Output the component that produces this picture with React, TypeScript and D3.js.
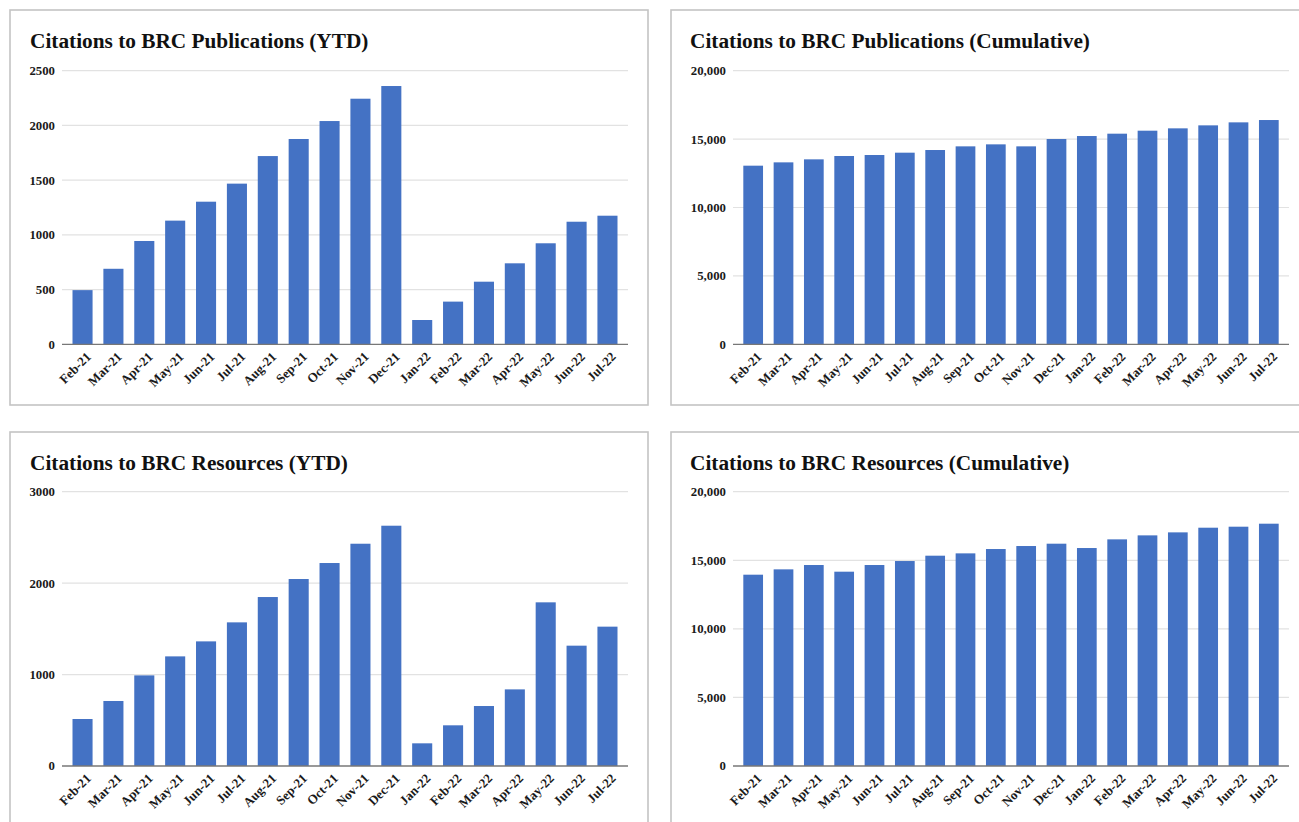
import React, { useEffect, useRef } from 'react';
import * as d3 from 'd3';

const MONTHS = [
  'Feb-21', 'Mar-21', 'Apr-21', 'May-21', 'Jun-21', 'Jul-21', 'Aug-21', 'Sep-21', 'Oct-21',
  'Nov-21', 'Dec-21', 'Jan-22', 'Feb-22', 'Mar-22', 'Apr-22', 'May-22', 'Jun-22', 'Jul-22',
];

const PUB_YTD = [495, 690, 944, 1130, 1303, 1468, 1720, 1876, 2040, 2244, 2360, 222, 390, 572, 740, 923, 1120, 1175];
const PUB_CUM = [13057, 13300, 13520, 13764, 13837, 14007, 14202, 14470, 14616, 14470, 15006, 15225, 15396, 15615, 15786, 16005, 16224, 16394];
const RES_YTD = [514, 711, 991, 1199, 1363, 1571, 1848, 2045, 2220, 2431, 2628, 248, 445, 656, 838, 1790, 1316, 1524];
const RES_CUM = [13949, 14338, 14654, 14168, 14654, 14945, 15334, 15504, 15820, 16039, 16209, 15893, 16525, 16816, 17035, 17375, 17448, 17667];

const PUB_YTD_TICKS = [0, 500, 1000, 1500, 2000, 2500];
const RES_YTD_TICKS = [0, 1000, 2000, 3000];
const CUM_TICKS = [0, 5000, 10000, 15000, 20000];

const BAR = '#4472c4';
const FONT = '"Liberation Serif", "Times New Roman", serif';

interface Panel {
  title: string;
  values: number[];
  ticks: number[];
  fmt: (v: number) => string;
  box: [number, number, number, number]; // x0, y0, x1, y1 of frame
  plot: { left: number; right: number; top: number; bottom: number };
  titleX: number;
  titleY: number;
}

const plain = (v: number) => String(v);
const comma = d3.format(',');

const PANELS: Panel[] = [
  {
    title: 'Citations to BRC Publications (YTD)', values: PUB_YTD, ticks: PUB_YTD_TICKS, fmt: plain,
    box: [10, 10, 648, 405], plot: { left: 62, right: 628, top: 70.7, bottom: 344.3 }, titleX: 30, titleY: 48,
  },
  {
    title: 'Citations to BRC Publications (Cumulative)', values: PUB_CUM, ticks: CUM_TICKS, fmt: comma,
    box: [671, 10, 1320, 405], plot: { left: 733, right: 1289, top: 70.7, bottom: 344.3 }, titleX: 690, titleY: 48,
  },
  {
    title: 'Citations to BRC Resources (YTD)', values: RES_YTD, ticks: RES_YTD_TICKS, fmt: plain,
    box: [10, 432, 648, 840], plot: { left: 62, right: 628, top: 491.7, bottom: 766 }, titleX: 30, titleY: 470,
  },
  {
    title: 'Citations to BRC Resources (Cumulative)', values: RES_CUM, ticks: CUM_TICKS, fmt: comma,
    box: [671, 432, 1320, 840], plot: { left: 733, right: 1289, top: 491.7, bottom: 766 }, titleX: 690, titleY: 470,
  },
];

export default function App() {
  const svgRef = useRef<SVGSVGElement>(null);

  useEffect(() => {
    if (!svgRef.current) return;
    const svg = d3.select(svgRef.current);
    svg.selectAll('*').remove();

    svg.append('rect').attr('width', 1299).attr('height', 822).attr('fill', '#fff');

    PANELS.forEach((p) => {
      const g = svg.append('g');
      const [bx0, by0, bx1, by1] = p.box;

      // frame
      g.append('rect')
        .attr('x', bx0).attr('y', by0)
        .attr('width', bx1 - bx0).attr('height', by1 - by0)
        .attr('fill', '#fff')
        .attr('stroke', '#c4c4c4')
        .attr('stroke-width', 1.6);

      const x = d3.scaleBand<string>()
        .domain(MONTHS)
        .range([p.plot.left, p.plot.right])
        .paddingInner(0.35)
        .paddingOuter(0.34);

      const y = d3.scaleLinear()
        .domain([0, p.ticks[p.ticks.length - 1]])
        .range([p.plot.bottom, p.plot.top]);

      // title
      g.append('text')
        .attr('x', p.titleX).attr('y', p.titleY)
        .text(p.title)
        .attr('font-family', FONT)
        .attr('font-weight', 'bold')
        .attr('font-size', '21.3px')
        .attr('fill', '#111');

      // gridlines
      g.selectAll('.grid')
        .data(p.ticks.filter((t) => t !== 0))
        .enter().append('line')
        .attr('x1', p.plot.left).attr('x2', p.plot.right)
        .attr('y1', (d) => y(d)).attr('y2', (d) => y(d))
        .attr('stroke', '#e2e2e2')
        .attr('stroke-width', 1.2);

      // y labels
      g.selectAll('.ylab')
        .data(p.ticks)
        .enter().append('text')
        .attr('x', p.plot.left - 7)
        .attr('y', (d) => y(d))
        .attr('dy', '0.35em')
        .attr('text-anchor', 'end')
        .text((d) => p.fmt(d))
        .attr('font-family', FONT)
        .attr('font-weight', 'bold')
        .attr('font-size', '12.8px')
        .attr('fill', '#1a1a1a');

      // bars
      g.selectAll('.bar')
        .data(p.values)
        .enter().append('rect')
        .attr('x', (_, i) => x(MONTHS[i])!)
        .attr('y', (d) => y(d))
        .attr('width', x.bandwidth())
        .attr('height', (d) => p.plot.bottom - y(d))
        .attr('fill', BAR);

      // baseline
      g.append('line')
        .attr('x1', p.plot.left).attr('x2', p.plot.right)
        .attr('y1', p.plot.bottom).attr('y2', p.plot.bottom)
        .attr('stroke', '#777')
        .attr('stroke-width', 1.3);

      // x labels, rotated
      g.selectAll('.xlab')
        .data(MONTHS)
        .enter().append('text')
        .attr('transform', (d) => `translate(${x(d)! + x.bandwidth() / 2 + 6}, ${p.plot.bottom + 10}) rotate(-45)`)
        .attr('text-anchor', 'end')
        .attr('dy', '0.35em')
        .text((d) => d)
        .attr('font-family', FONT)
        .attr('font-weight', 'bold')
        .attr('font-size', '13px')
        .attr('fill', '#1a1a1a');
    });
  }, []);

  return (
    <svg
      ref={svgRef}
      width={1299}
      height={822}
      style={{ position: 'absolute', left: 0, top: 0, display: 'block' }}
    />
  );
}
